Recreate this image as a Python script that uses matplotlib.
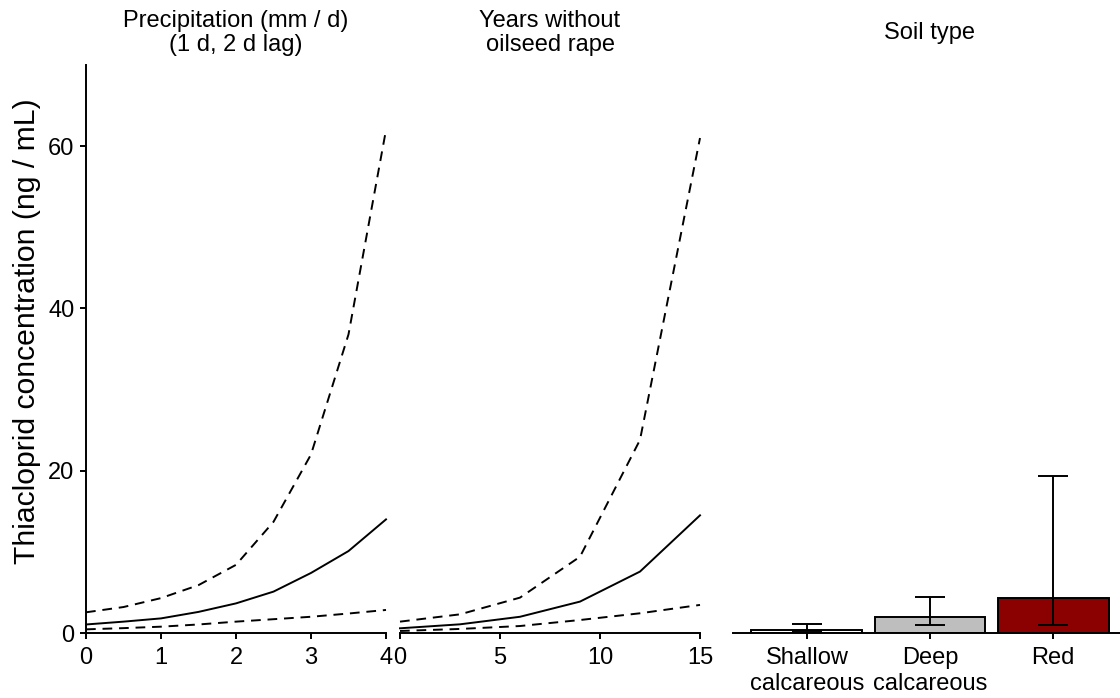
import matplotlib
matplotlib.use("Agg")
import matplotlib.pyplot as plt

plt.rcParams['font.family'] = ['Liberation Sans', 'DejaVu Sans']

# Precipitation effect (mm / d, 1 d & 2 d lag)
precip_x = [0, 0.5, 1, 1.5, 2, 2.5, 3, 3.5, 4]
precip_fit = [1.05, 1.4, 1.8, 2.6, 3.65, 5.1, 7.4, 10.1, 14.0]
precip_upper = [2.55, 3.2, 4.3, 5.9, 8.4, 13.7, 22.0, 36.8, 62.0]
precip_lower = [0.45, 0.6, 0.78, 1.05, 1.4, 1.7, 2.0, 2.4, 2.84]

# Years without oilseed rape
years_x = [0, 3, 6, 9, 12, 15]
years_fit = [0.58, 1.07, 2.0, 3.87, 7.57, 14.5]
years_upper = [1.4, 2.3, 4.36, 9.4, 23.8, 61.0]
years_lower = [0.25, 0.5, 0.86, 1.6, 2.43, 3.46]

# Soil type
soil_types = ["Shallow\ncalcareous", "Deep\ncalcareous", "Red"]
soil_mean = [0.4, 2.0, 4.28]
soil_low = [0.2, 1.0, 1.0]
soil_high = [1.07, 4.45, 19.3]
soil_colors = ["white", "#BEBEBE", "#8B0000"]

W, H = 1120, 698
fig = plt.figure(figsize=(W / 100, H / 100), dpi=100)

y_bottom = 633
y_top = 65
bottom = 1 - y_bottom / H
height = (y_bottom - y_top) / H

def axes_px(x0, x1):
    return fig.add_axes([x0 / W, bottom, (x1 - x0) / W, height])

ax1 = axes_px(86, 386)
ax2 = axes_px(400, 700)
ax3 = axes_px(733, 1127)

lw = 1.4
tick_fs = 17
title_fs = 17
dash = (5, 3.5)

for ax in (ax1, ax2, ax3):
    ax.set_ylim(0, 70)
    for s in ("top", "right"):
        ax.spines[s].set_visible(False)
    for s in ("left", "bottom"):
        ax.spines[s].set_linewidth(lw)
    ax.tick_params(axis="both", length=6 * 0.72, width=lw, labelsize=tick_fs,
                   colors="black", pad=4)
    ax.patch.set_alpha(0)

# Panel 1: precipitation
ax1.plot(precip_x, precip_fit, color="black", lw=lw, clip_on=False)
ax1.plot(precip_x, precip_upper, color="black", lw=lw, dashes=dash, clip_on=False)
ax1.plot(precip_x, precip_lower, color="black", lw=lw, dashes=dash, clip_on=False)
ax1.set_xlim(0, 4)
ax1.set_xticks([0, 1, 2, 3, 4])
ax1.set_yticks([0, 20, 40, 60])

# Shared y-axis title
fig.text(27 / W, 1 - 331 / H, "Thiacloprid concentration (ng / mL)",
         rotation=90, ha="center", va="center", fontsize=21.7)

# Panel 2: years without oilseed rape
ax2.plot(years_x, years_fit, color="black", lw=lw, clip_on=False)
ax2.plot(years_x, years_upper, color="black", lw=lw, dashes=dash, clip_on=False)
ax2.plot(years_x, years_lower, color="black", lw=lw, dashes=dash, clip_on=False)
ax2.set_xlim(0, 15)
ax2.set_xticks([0, 5, 10, 15])
ax2.spines["left"].set_visible(False)
ax2.tick_params(axis="y", left=False, labelleft=False)

# Panel 3: soil type
pos = [1, 2, 3]
ax3.bar(pos, soil_mean, width=0.9, color=soil_colors, edgecolor="black",
        linewidth=lw, zorder=2)
yerr = [[m - l for m, l in zip(soil_mean, soil_low)],
        [h - m for m, h in zip(soil_mean, soil_high)]]
ax3.errorbar(pos, soil_mean, yerr=yerr, fmt="none", ecolor="black",
             elinewidth=lw, capsize=10.8, capthick=lw, zorder=3)
ax3.set_xlim(0.4, 3.6)
ax3.set_xticks(pos)
ax3.set_xticklabels(soil_types, linespacing=1.2)
ax3.spines["left"].set_visible(False)
ax3.tick_params(axis="y", left=False, labelleft=False)
ax3.tick_params(axis="x", pad=6)
ax1.tick_params(axis="x", pad=6)
ax2.tick_params(axis="x", pad=6)

# Panel titles
title_y = 1 - 33 / H
for ax, txt in ((ax1, "Precipitation (mm / d)\n(1 d, 2 d lag)"),
                (ax2, "Years without\noilseed rape"),
                (ax3, "Soil type")):
    bb = ax.get_position()
    fig.text((bb.x0 + bb.x1) / 2, title_y, txt, ha="center", va="center",
             fontsize=title_fs, linespacing=1.15)

fig.savefig("out.png", dpi=100)
